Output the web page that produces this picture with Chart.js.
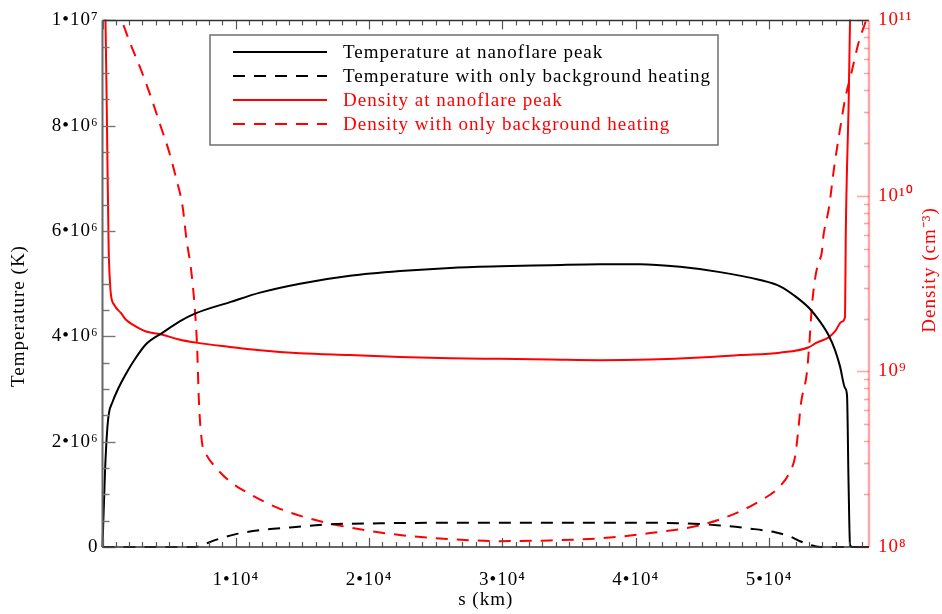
<!DOCTYPE html>
<html><head><meta charset="utf-8">
<script src="https://cdn.jsdelivr.net/npm/chart.js@4.4.1/dist/chart.umd.min.js"></script>
<style>html,body{margin:0;padding:0;background:#fff;}#wrap{width:942px;height:614px;position:relative;}</style>
</head><body><div id="wrap"><canvas id="c"></canvas></div>
<script>
// ---------- DATA ----------
const seriesNames = [
  'Temperature at nanoflare peak',
  'Temperature with only background heating',
  'Density at nanoflare peak',
  'Density with only background heating'
];
// Temperature at nanoflare peak (K) vs s (km)
const sTempPeak = [0,188,338,488,713,1163,1763,2438,3263,4516,5761,7014,9565,11815,14816,18567,22318,26069,29820,33571,37322,40323,43324,46325,49325,50826,52079,53076,53826,54449,54952,55326,55701,55851,55964,56077,56227,57500];
const tempPeak  = [0,1.43e6,2.17e6,2.55e6,2.73e6,3.0e6,3.29e6,3.57e6,3.85e6,4.07e6,4.28e6,4.44e6,4.65e6,4.83e6,5.0e6,5.15e6,5.24e6,5.30e6,5.33e6,5.35e6,5.37e6,5.37e6,5.32e6,5.22e6,5.07e6,4.95e6,4.74e6,4.52e6,4.28e6,4.03e6,3.74e6,3.43e6,3.02e6,2.88e6,1.25e6,0.04e6,0,0];
// Temperature with only background heating (K)
const sTempBg = [0,6900,7314,8440,9940,11815,14066,17067,20818,26069,33571,40323,43324,46325,48575,50451,51576,52326,53076,53826,57500];
const tempBg  = [0,0,0.02e6,0.13e6,0.24e6,0.32e6,0.37e6,0.43e6,0.45e6,0.46e6,0.46e6,0.46e6,0.45e6,0.41e6,0.35e6,0.28e6,0.20e6,0.11e6,0.04e6,0,0];
// Density at nanoflare peak (cm^-3)
const sDensPeak = [0,110,225,340,460,563,638,885,1388,1763,2266,3263,4516,5739,7015,9565,11815,14816,18567,22318,26069,29820,33571,37322,41073,44824,47825,50826,52950,53580,54450,54952,55455,55703,55755,55850,55965,56077,56152];
const densPeak  = [3e11,1.5e11,1e11,2.4e10,5.15e9,3.2e9,2.71e9,2.39e9,2.15e9,1.97e9,1.85e9,1.69e9,1.62e9,1.52e9,1.46e9,1.38e9,1.32e9,1.27e9,1.24e9,1.21e9,1.19e9,1.18e9,1.17e9,1.16e9,1.17e9,1.20e9,1.24e9,1.28e9,1.37e9,1.46e9,1.56e9,1.69e9,1.92e9,2.05e9,5.86e9,1.44e10,3.11e10,1e11,3e11];
// Density with only background heating (cm^-3)
const sDensBg = [900,1400,2100,2900,3700,4350,5000,5514,6017,6302,6639,6887,7089,7239,7464,7764,8440,9565,11065,13315,15566,18567,22318,26069,29820,33571,37322,41073,44824,47075,49325,50826,51576,51951,52176,52401,52828,53023,53203,53451,53698,53953,54073,54501,54876,55326,55701,56226,56751,57276,57500];
const densBg  = [1.2e11,1.01e11,7.33e10,5.2e10,3.54e10,2.51e10,1.78e10,1.27e10,8.6e9,5.64e9,3.84e9,2.48e9,1.43e9,6.6e8,3.95e8,3.39e8,2.87e8,2.36e8,2.0e8,1.65e8,1.45e8,1.29e8,1.17e8,1.11e8,1.08e8,1.09e8,1.12e8,1.2e8,1.33e8,1.51e8,1.83e8,2.22e8,2.69e8,3.26e8,4.49e8,6.6e8,9.7e8,1.43e9,2.29e9,3.36e9,4.16e9,4.73e9,5.86e9,8.6e9,1.44e10,2.4e10,3.54e10,5.2e10,7.64e10,1e11,1.15e11];
// Tick labels
const xTickValues = [10000,20000,30000,40000,50000];
const xTickLabels = ['1•10⁴','2•10⁴','3•10⁴','4•10⁴','5•10⁴'];
const tTickValues = [0,2e6,4e6,6e6,8e6,1e7];
const tTickLabels = ['0','2•10⁶','4•10⁶','6•10⁶','8•10⁶','1•10⁷'];
const nTickValues = [1e8,1e9,1e10,1e11];
const nTickLabels = ['10⁸','10⁹','10¹⁰','10¹¹'];
const axisTitles = {x: 's (km)', yT: 'Temperature (K)', yD: 'Density (cm⁻³)'};
// ------------------------------------------------------------

const FONT = 'Liberation Serif';
const RED = '#ff0000';
const zip = (xs, ys) => xs.map((x, i) => ({x, y: ys[i]}));
const labelFor = (vals, labs, v) => {
  const i = vals.findIndex(t => Math.abs(t - v) <= Math.abs(t) * 1e-9 + 1e-9);
  return i >= 0 ? labs[i] : '';
};
const forceTicks = vals => (s => { s.ticks = vals.map(v => ({value: v})); });

const framePlugin = {
  id: 'frame',
  beforeDraw(chart) { chart.ctx.letterSpacing = '1px'; },
  afterDatasetsDraw(chart) {
    const {ctx, chartArea: a, scales} = chart;
    const x = scales.x, yT = scales.yT, yD = scales.yD;
    const seg = (x1, y1, x2, y2) => { ctx.beginPath(); ctx.moveTo(x1, y1); ctx.lineTo(x2, y2); ctx.stroke(); };
    ctx.save();
    ctx.strokeStyle = '#555'; ctx.lineWidth = 1.2;
    for (let v = 0; v <= x.max; v += 1000) {
      const px = Math.round(x.getPixelForValue(v)) + 0.5;
      const len = (v % 10000 === 0) ? 9 : 5;
      seg(px, a.bottom, px, a.bottom - len);
      seg(px, a.top, px, a.top + len);
    }
    ctx.strokeStyle = '#777'; ctx.lineWidth = 1.4;
    for (let v = 0; v <= yT.max; v += 5e5) {
      const py = Math.round(yT.getPixelForValue(v)) + 0.5;
      const len = (v % 2e6 === 0) ? 13 : 7;
      seg(a.left, py, a.left + len, py);
    }
    ctx.strokeStyle = 'rgba(255,0,0,0.35)'; ctx.lineWidth = 1.6;
    for (let e = 8; e <= 11; e++) {
      for (let m = 1; m <= 9; m++) {
        const v = m * Math.pow(10, e);
        if (v > yD.max * 1.0001) break;
        const py = Math.round(yD.getPixelForValue(v)) + 0.5;
        seg(a.right, py, a.right - (m === 1 ? 12 : 5), py);
      }
    }
    ctx.strokeStyle = '#333'; ctx.lineWidth = 1.5;
    seg(a.left, a.top, a.right, a.top);
    seg(a.left, a.bottom, a.right, a.bottom);
    ctx.strokeStyle = '#666'; ctx.lineWidth = 2;
    seg(a.left, a.top, a.left, a.bottom);
    ctx.strokeStyle = 'rgba(255,0,0,0.35)'; ctx.lineWidth = 2.4;
    seg(a.right, a.top, a.right, a.bottom);
    ctx.restore();
  },
  afterDraw(chart) {
    const {ctx} = chart;
    const vTitle = (text, cx, cy, color) => {
      ctx.save();
      ctx.letterSpacing = '1px';
      ctx.fillStyle = color;
      ctx.font = `19px "${FONT}"`;
      ctx.textAlign = 'center'; ctx.textBaseline = 'middle';
      ctx.translate(cx, cy); ctx.rotate(-Math.PI / 2);
      ctx.fillText(text, 0, 0);
      ctx.restore();
    };
    vTitle(axisTitles.yT, 19, 316, '#000');
    vTitle(axisTitles.yD, 930, 270, RED);

    ctx.save();
    ctx.letterSpacing = '1px';
    const bx = 210, by = 35, bw = 508, bh = 110;
    ctx.fillStyle = '#fff'; ctx.fillRect(bx, by, bw, bh);
    ctx.strokeStyle = '#777'; ctx.lineWidth = 1.6; ctx.strokeRect(bx, by, bw, bh);
    const rows = [52, 76, 100, 124];
    chart.data.datasets.forEach((ds, i) => {
      const y = rows[i];
      ctx.strokeStyle = ds.borderColor; ctx.lineWidth = ds.borderWidth;
      ctx.setLineDash(ds.borderDash || []);
      ctx.beginPath(); ctx.moveTo(233, y); ctx.lineTo(327, y); ctx.stroke();
      ctx.setLineDash([]);
      ctx.fillStyle = ds.legendTextColor;
      ctx.font = `19px "${FONT}"`;
      ctx.textAlign = 'left'; ctx.textBaseline = 'middle';
      ctx.fillText(ds.label, 343, y + 1);
    });
    ctx.restore();
  }
};

new Chart(document.getElementById('c'), {
  type: 'line',
  data: {
    datasets: [
      {label: seriesNames[0], data: zip(sTempPeak, tempPeak), yAxisID: 'yT', borderColor: '#000', borderWidth: 2, legendTextColor: '#000', cubicInterpolationMode: 'monotone'},
      {label: seriesNames[1], data: zip(sTempBg, tempBg), yAxisID: 'yT', borderColor: '#000', borderWidth: 2, borderDash: [12, 9], legendTextColor: '#000', cubicInterpolationMode: 'monotone'},
      {label: seriesNames[2], data: zip(sDensPeak, densPeak), yAxisID: 'yD', borderColor: RED, borderWidth: 2, legendTextColor: RED, cubicInterpolationMode: 'monotone'},
      {label: seriesNames[3], data: zip(sDensBg, densBg), yAxisID: 'yD', borderColor: RED, borderWidth: 2, borderDash: [12, 9], legendTextColor: RED, cubicInterpolationMode: 'monotone'}
    ]
  },
  options: {
    responsive: true, maintainAspectRatio: false, animation: false,
    elements: {point: {radius: 0}},
    datasets: {line: {clip: {left: 2, right: 2, top: 1, bottom: 2}}},
    layout: {padding: {top: 9, left: 0, right: 0, bottom: 0}},
    plugins: {legend: {display: false}, tooltip: {enabled: false}},
    scales: {
      x: {
        type: 'linear', position: 'bottom', min: 0, max: 57500,
        grid: {display: false, drawTicks: false}, border: {display: false},
        afterBuildTicks: forceTicks(xTickValues),
        ticks: {autoSkip: false, maxRotation: 0, minRotation: 0, padding: 22, color: '#000',
          font: {family: FONT, size: 19}, callback: v => labelFor(xTickValues, xTickLabels, v)},
        title: {display: true, text: axisTitles.x, color: '#000', font: {family: FONT, size: 19}, padding: {top: 0, bottom: 3}},
        afterFit(s) { s.height = 67; }
      },
      yT: {
        type: 'linear', position: 'left', min: 0, max: 1e7,
        grid: {display: false, drawTicks: false}, border: {display: false},
        afterBuildTicks: forceTicks(tTickValues),
        ticks: {autoSkip: false, padding: 4, color: '#000',
          font: {family: FONT, size: 19}, callback: v => labelFor(tTickValues, tTickLabels, v)},
        title: {display: false},
        afterFit(s) { s.width = 102.5; }
      },
      yD: {
        type: 'logarithmic', position: 'right', min: 1e8, max: 1e11,
        grid: {display: false, drawTicks: false}, border: {display: false},
        afterBuildTicks: forceTicks(nTickValues),
        ticks: {autoSkip: false, padding: 9, color: RED,
          font: {family: FONT, size: 19}, callback: v => labelFor(nTickValues, nTickLabels, v)},
        title: {display: false},
        afterFit(s) { s.width = 73; }
      }
    }
  },
  plugins: [framePlugin]
});
</script>
</body></html>
